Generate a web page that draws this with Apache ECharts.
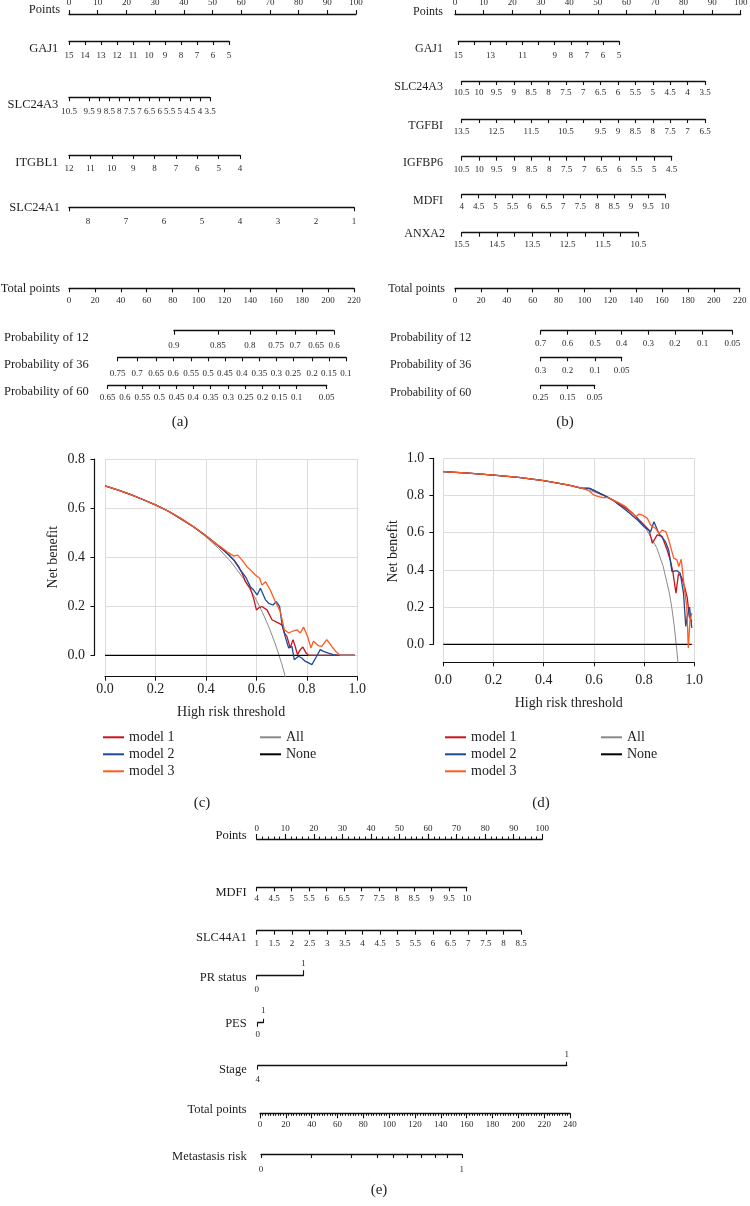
<!DOCTYPE html>
<html><head><meta charset="utf-8">
<script src="https://cdn.jsdelivr.net/npm/echarts@6/dist/echarts.min.js"></script>
<style>html,body{margin:0;padding:0;background:#fff}#chart{width:750px;height:1206px}</style>
</head><body><div id="chart"></div>
<script>
// ================= DATA =================
const pointsTicks = [0,10,20,30,40,50,60,70,80,90,100];
// ---- panel (a) nomogram ----
const aGAJ1 = [15,14,13,12,11,10,9,8,7,6,5];
const aSLC24A3 = [10.5,10,9.5,9,8.5,8,7.5,7,6.5,6,5.5,5,4.5,4,3.5];
const aITGBL1 = [12,11,10,9,8,7,6,5,4];
const aSLC24A1Range = [8.5,1];
const aSLC24A1 = [8,7,6,5,4,3,2,1];
const aTotal = [0,20,40,60,80,100,120,140,160,180,200,220];
const aProb12Labels = ['0.9','0.85','0.8','0.75','0.7','0.65','0.6'];
const aProb12Pos = [81.0,115.0,139.7,159.8,174.5,190.7,204.6];
const aProb36Labels = ['0.75','0.7','0.65','0.6','0.55','0.5','0.45','0.4','0.35','0.3','0.25','0.2','0.15','0.1'];
const aProb36Pos = [37.6,52.5,67.2,80.3,94.2,107.3,120.4,133.5,146.9,160.0,173.1,187.6,200.7,213.8];
const aProb60Labels = ['0.65','0.6','0.55','0.5','0.45','0.4','0.35','0.3','0.25','0.2','0.15','0.1','0.05'];
const aProb60Pos = [29.9,43.2,56.6,69.7,83.1,95.9,109.4,123.0,136.4,149.5,162.3,175.8,198.9];
// ---- panel (b) nomogram ----
const bGAJ1 = [15,14,13,12,11,10,9,8,7,6,5];
const bGAJ1Labels = [15,13,11,9,8,7,6,5];
const bSLC24A3 = [10.5,10,9.5,9,8.5,8,7.5,7,6.5,6,5.5,5,4.5,4,3.5];
const bTGFBI = [13.5,13,12.5,12,11.5,11,10.5,10,9.5,9,8.5,8,7.5,7,6.5];
const bTGFBILabels = [13.5,12.5,11.5,10.5,9.5,9,8.5,8,7.5,7,6.5];
const bIGFBP6 = [10.5,10,9.5,9,8.5,8,7.5,7,6.5,6,5.5,5,4.5];
const bMDFI = [4,4.5,5,5.5,6,6.5,7,7.5,8,8.5,9,9.5,10];
const bANXA2 = [15.5,15,14.5,14,13.5,13,12.5,12,11.5,11,10.5];
const bANXA2Labels = [15.5,14.5,13.5,12.5,11.5,10.5];
const bTotal = [0,20,40,60,80,100,120,140,160,180,200,220];
const bProb12Labels = ['0.7','0.6','0.5','0.4','0.3','0.2','0.1','0.05'];
const bProb12Pos = [66.2,87.1,108.2,128.8,149.4,170.0,191.4,214.3];
const bProb36Labels = ['0.3','0.2','0.1','0.05'];
const bProb36Pos = [66.2,87.1,108.2,128.8];
const bProb60Labels = ['0.25','0.15','0.05'];
const bProb60Pos = [66.2,87.1,107.9];
// ---- panel (e) nomogram ----
const eMDFI = [4,4.5,5,5.5,6,6.5,7,7.5,8,8.5,9,9.5,10];
const eSLC44A1 = [1,1.5,2,2.5,3,3.5,4,4.5,5,5.5,6,6.5,7,7.5,8,8.5];
const ePRStatus = [0,1];
const ePES = [0,1];
const eStage = [4,1];
const eRiskPos = [0.8,40.0,70.4,90.8,103.2,114.0,124.6,135.5,144.8,156.2];
const eRiskLabels = ['0','1'];
// ---- panel (c) decision curves: [threshold, net benefit] ----
const cAll = [[0,0.690],[0.05,0.674],[0.1,0.656],[0.15,0.635],[0.2,0.613],[0.25,0.587],[0.3,0.557],[0.35,0.523],[0.4,0.483],[0.45,0.436],[0.5,0.380],[0.55,0.311],[0.6,0.225],[0.625,0.173],[0.65,0.114],[0.675,0.046],[0.7,-0.033],[0.72,-0.107]];
const cNone = [[0,0],[0.99,0]];
const cModel1 = [[0,0.690],[0.05,0.674],[0.1,0.656],[0.15,0.635],[0.2,0.613],[0.25,0.588],[0.3,0.558],[0.35,0.525],[0.4,0.487],[0.45,0.445],[0.47,0.428],[0.49,0.410],[0.511,0.388],[0.53,0.361],[0.545,0.330],[0.557,0.300],[0.576,0.273],[0.589,0.232],[0.6,0.185],[0.609,0.193],[0.622,0.199],[0.642,0.185],[0.662,0.145],[0.688,0.131],[0.701,0.124],[0.711,0.091],[0.721,0.077],[0.734,0.030],[0.745,0.064],[0.754,0.036],[0.763,0.003],[0.774,0.023],[0.784,0.034],[0.797,0.009],[0.807,0],[0.9,0],[0.99,0]];
const cModel2 = [[0,0.690],[0.05,0.674],[0.1,0.656],[0.15,0.635],[0.2,0.613],[0.25,0.588],[0.3,0.556],[0.35,0.524],[0.4,0.487],[0.45,0.445],[0.47,0.428],[0.49,0.410],[0.511,0.388],[0.537,0.347],[0.557,0.320],[0.576,0.280],[0.589,0.266],[0.603,0.246],[0.616,0.273],[0.636,0.226],[0.649,0.212],[0.666,0.205],[0.679,0.219],[0.692,0.199],[0.701,0.131],[0.714,0.077],[0.728,0.030],[0.741,0.036],[0.750,-0.018],[0.767,-0.004],[0.780,-0.011],[0.793,-0.024],[0.807,-0.031],[0.820,-0.038],[0.839,-0.004],[0.853,0.023],[0.866,0.016],[0.886,0.009],[0.905,0.003],[0.925,0],[0.99,0]];
const cModel3 = [[0,0.690],[0.05,0.674],[0.1,0.656],[0.15,0.635],[0.2,0.613],[0.25,0.588],[0.3,0.558],[0.35,0.525],[0.4,0.487],[0.45,0.447],[0.458,0.442],[0.484,0.422],[0.511,0.404],[0.526,0.408],[0.543,0.388],[0.563,0.361],[0.583,0.341],[0.596,0.327],[0.613,0.314],[0.622,0.286],[0.636,0.300],[0.655,0.266],[0.675,0.219],[0.695,0.178],[0.711,0.104],[0.728,0.091],[0.741,0.097],[0.761,0.104],[0.774,0.091],[0.787,0.115],[0.803,0.077],[0.816,0.030],[0.826,0.057],[0.846,0.039],[0.859,0.036],[0.879,0.064],[0.899,0.036],[0.918,0.012],[0.932,0],[0.99,0]];
// ---- panel (d) decision curves ----
const dAll = [[0,0.928],[0.1,0.920],[0.2,0.910],[0.3,0.897],[0.4,0.880],[0.5,0.856],[0.6,0.820],[0.65,0.794],[0.7,0.760],[0.75,0.712],[0.8,0.640],[0.85,0.520],[0.875,0.424],[0.9,0.280],[0.91,0.200],[0.92,0.100],[0.93,-0.028],[0.935,-0.100]];
const dNone = [[0,0],[0.99,0]];
const dModel1 = [[0,0.928],[0.1,0.920],[0.2,0.910],[0.3,0.897],[0.4,0.880],[0.5,0.856],[0.55,0.840],[0.578,0.840],[0.597,0.829],[0.624,0.811],[0.65,0.795],[0.676,0.775],[0.70,0.755],[0.728,0.730],[0.754,0.704],[0.780,0.668],[0.800,0.641],[0.820,0.614],[0.833,0.543],[0.852,0.588],[0.872,0.580],[0.891,0.510],[0.905,0.450],[0.915,0.385],[0.927,0.275],[0.937,0.380],[0.950,0.360],[0.963,0.300],[0.972,0.250],[0.980,0.150],[0.990,0.120]];
const dModel2 = [[0,0.928],[0.1,0.920],[0.2,0.910],[0.3,0.897],[0.4,0.880],[0.5,0.856],[0.55,0.840],[0.584,0.838],[0.624,0.811],[0.676,0.775],[0.728,0.721],[0.774,0.668],[0.800,0.632],[0.826,0.605],[0.839,0.659],[0.859,0.596],[0.885,0.552],[0.898,0.507],[0.911,0.391],[0.931,0.396],[0.944,0.382],[0.957,0.275],[0.966,0.096],[0.972,0.150],[0.981,0.200],[0.990,0.088]];
const dModel3 = [[0,0.928],[0.1,0.920],[0.2,0.910],[0.3,0.897],[0.4,0.880],[0.5,0.856],[0.55,0.840],[0.578,0.829],[0.597,0.805],[0.615,0.795],[0.637,0.789],[0.655,0.790],[0.676,0.775],[0.70,0.760],[0.728,0.739],[0.748,0.712],[0.767,0.686],[0.780,0.700],[0.793,0.695],[0.813,0.677],[0.826,0.641],[0.846,0.623],[0.859,0.596],[0.872,0.614],[0.887,0.605],[0.898,0.561],[0.918,0.463],[0.931,0.454],[0.938,0.418],[0.948,0.457],[0.961,0.293],[0.970,0.204],[0.976,-0.020],[0.983,0.132],[0.990,0.168]];

// ================= STYLE / LAYOUT =================
const SERIF = 'Liberation Serif';
const AXIS = '#111';
const COLORS = {m1:'#c8141c', m2:'#1b4a9a', m3:'#ff5a1f', all:'#8a8a8a', none:'#000'};

const grids = [], xAxes = [], yAxes = [], series = [], graphics = [];

function addGrid(g) {
  grids.push(Object.assign({show:false, containLabel:false, outerBoundsMode:'none'}, g));
  return grids.length - 1;
}
function lookupFmt(pos, labs) {
  return function (v) {
    let k = 0, best = Infinity;
    pos.forEach(function (p, i) { const d = Math.abs(p - v); if (d < best) { best = d; k = i; } });
    return labs[k];
  };
}
function nameText(txt, x, y, fs, align) {
  graphics.push({type:'text', x:x, y:y, silent:true,
    style:{text:txt, fontSize:fs, fontFamily:SERIF, fill:'#1e1e1e', align:align || 'right', verticalAlign:'middle'}});
}
function buildAxis(gi, a, fs) {
  const lo = Math.min(a.range[0], a.range[1]), hi = Math.max(a.range[0], a.range[1]);
  const ax = {
    gridIndex: gi, type: 'value', position: a.pos || 'bottom', min: lo, max: hi,
    inverse: a.range[0] > a.range[1],
    axisLine: {show: a.line !== false, onZero: false, lineStyle: {color: AXIS, width: 1.3}},
    axisTick: {show: true, inside: false, length: a.tickLen || 4, lineStyle: {color: AXIS, width: 1.1}},
    axisLabel: {show: true, margin: a.ldy - fs / 2, fontSize: fs, fontFamily: SERIF, color: '#2a2a2a',
      hideOverlap: false, showMinLabel: true, showMaxLabel: true},
    splitLine: {show: false}, splitArea: {show: false}
  };
  if (a.interval) {
    ax.interval = a.interval;
  } else {
    ax.axisTick.customValues = a.ticks;
    ax.axisLabel.customValues = a.labels || a.ticks;
  }
  if (a.fmt) ax.axisLabel.formatter = a.fmt;
  if (a.minor) ax.minorTick = {show: true, splitNumber: a.minor, length: a.minorLen, lineStyle: {color: AXIS, width: 1}};
  return ax;
}
function addRow(r, fs, nfs) {
  const gi = addGrid({left: r.x0, width: r.x1 - r.x0, top: r.y, height: 0});
  yAxes.push({gridIndex: gi, type: 'value', show: false, min: 0, max: 1});
  r.axes.forEach(function (a) { xAxes.push(buildAxis(gi, a, fs)); });
  nameText(r.name, r.nx, r.ny, nfs, r.align);
}
function probRow(name, nx, ny, y, pos, labs, tot, ldy) {
  const tpx = function (t) { return tot.x0 + t * (tot.x1 - tot.x0) / tot.max; };
  return {name: name, nx: nx, ny: ny, align: 'left', x0: tpx(pos[0]), x1: tpx(pos[pos.length - 1]), y: y,
    axes: [{range: [pos[0], pos[pos.length - 1]], ticks: pos, labels: pos, fmt: lookupFmt(pos, labs), ldy: ldy}]};
}

// ---------- (a) ----------
const totA = {x0: 69, x1: 354, max: 220};
[
  {name:'Points', nx:60, ny:10, x0:69, x1:356, y:14, axes:[{pos:'top', range:[0,100], ticks:pointsTicks, ldy:11}]},
  {name:'GAJ1', nx:58.3, ny:48.3, x0:69, x1:229, y:41, axes:[{range:[aGAJ1[0], aGAJ1[aGAJ1.length-1]], ticks:aGAJ1, ldy:15}]},
  {name:'SLC24A3', nx:58.3, ny:105, x0:69, x1:210, y:97.3, axes:[{range:[aSLC24A3[0], aSLC24A3[aSLC24A3.length-1]], ticks:aSLC24A3, ldy:14.3}]},
  {name:'ITGBL1', nx:58.3, ny:162.7, x0:69, x1:240, y:155, axes:[{range:[aITGBL1[0], aITGBL1[aITGBL1.length-1]], ticks:aITGBL1, ldy:13.3}]},
  {name:'SLC24A1', nx:60, ny:207.3, x0:69, x1:354, y:207.3, axes:[{range:aSLC24A1Range, ticks:aSLC24A1Range, labels:aSLC24A1, ldy:14.3}]},
  {name:'Total points', nx:60, ny:288.3, x0:totA.x0, x1:totA.x1, y:288.3, axes:[{range:[0,220], ticks:aTotal, ldy:12.4}]},
  probRow('Probability of 12', 4, 338, 330.7, aProb12Pos, aProb12Labels, totA, 15),
  probRow('Probability of 36', 4, 365, 357.3, aProb36Pos, aProb36Labels, totA, 16),
  probRow('Probability of 60', 4, 391.7, 385, aProb60Pos, aProb60Labels, totA, 12.3)
].forEach(function (r) { addRow(r, 9, 12.5); });

// ---------- (b) ----------
const totB = {x0: 455, x1: 739.7, max: 220};
[
  {name:'Points', nx:443, ny:11.7, x0:455, x1:740.7, y:14, axes:[{pos:'top', range:[0,100], ticks:pointsTicks, ldy:11}]},
  {name:'GAJ1', nx:443, ny:49, x0:458.3, x1:619, y:41, axes:[{range:[15,5], ticks:bGAJ1, labels:bGAJ1Labels, ldy:15}]},
  {name:'SLC24A3', nx:443, ny:87.3, x0:461.7, x1:705, y:81, axes:[{range:[10.5,3.5], ticks:bSLC24A3, ldy:11.7}]},
  {name:'TGFBI', nx:443, ny:126, x0:461.7, x1:705, y:119, axes:[{range:[13.5,6.5], ticks:bTGFBI, labels:bTGFBILabels, ldy:12.7}]},
  {name:'IGFBP6', nx:443, ny:163, x0:461.7, x1:671.7, y:156.7, axes:[{range:[10.5,4.5], ticks:bIGFBP6, ldy:12.7}]},
  {name:'MDFI', nx:443, ny:201, x0:461.7, x1:665, y:194.3, axes:[{range:[4,10], ticks:bMDFI, ldy:12.5}]},
  {name:'ANXA2', nx:445, ny:233.7, x0:461.7, x1:638.3, y:232.7, axes:[{range:[15.5,10.5], ticks:bANXA2, labels:bANXA2Labels, ldy:12.3}]},
  {name:'Total points', nx:445, ny:289.3, x0:totB.x0, x1:totB.x1, y:288.3, axes:[{range:[0,220], ticks:bTotal, ldy:12.4}]},
  probRow('Probability of 12', 390, 338.3, 330.7, bProb12Pos, bProb12Labels, totB, 13.3),
  probRow('Probability of 36', 390, 365, 357.3, bProb36Pos, bProb36Labels, totB, 13.4),
  probRow('Probability of 60', 390, 392.7, 385, bProb60Pos, bProb60Labels, totB, 12.3)
].forEach(function (r) { addRow(r, 9, 12); });

// ---------- (e) ----------
const totE = {x0: 260, x1: 570, max: 240};
[
  {name:'Points', nx:246.7, ny:836, x0:256.7, x1:542.3, y:839, axes:[{pos:'top', range:[0,100], interval:10, minor:5, tickLen:5, minorLen:2.5, ldy:10.7}]},
  {name:'MDFI', nx:246.7, ny:892.7, x0:256.7, x1:466.7, y:887.3, axes:[{range:[4,10], ticks:eMDFI, ldy:11.7}]},
  {name:'SLC44A1', nx:246.7, ny:937.3, x0:256.7, x1:521, y:930.7, axes:[{range:[1,8.5], ticks:eSLC44A1, ldy:13.3}]},
  {name:'PR status', nx:246.7, ny:977.3, x0:256.7, x1:303.3, y:975.7, axes:[
    {range:ePRStatus, ticks:[ePRStatus[0]], ldy:14.3},
    {pos:'top', line:false, range:ePRStatus, ticks:[ePRStatus[1]], tickLen:5.5, ldy:11.7}]},
  {name:'PES', nx:246.7, ny:1024, x0:257.7, x1:263.3, y:1022.7, axes:[
    {range:ePES, ticks:[ePES[0]], ldy:12.3},
    {pos:'top', line:false, range:ePES, ticks:[ePES[1]], ldy:11.7}]},
  {name:'Stage', nx:246.7, ny:1069.3, x0:257.7, x1:566.7, y:1065.7, axes:[
    {range:eStage, ticks:[eStage[0]], ldy:14.3},
    {pos:'top', line:false, range:eStage, ticks:[eStage[1]], ldy:11.4}]},
  {name:'Total points', nx:246.7, ny:1110, x0:totE.x0, x1:totE.x1, y:1113.3, axes:[{range:[0,240], interval:20, minor:10, tickLen:5, minorLen:2.5, ldy:11.7}]},
  {name:'Metastasis risk', nx:246.7, ny:1156.7, x0:totE.x0 + eRiskPos[0]*(totE.x1-totE.x0)/totE.max,
    x1:totE.x0 + eRiskPos[eRiskPos.length-1]*(totE.x1-totE.x0)/totE.max, y:1154,
    axes:[{range:[eRiskPos[0], eRiskPos[eRiskPos.length-1]], ticks:eRiskPos,
      labels:[eRiskPos[0], eRiskPos[eRiskPos.length-1]],
      fmt:lookupFmt([eRiskPos[0], eRiskPos[eRiskPos.length-1]], eRiskLabels), ldy:15.3}]}
].forEach(function (r) { addRow(r, 9, 12.5); });

// ---------- DCA panels ----------
function addDCA(L, d) {
  const txt = {fontFamily: SERIF, fontSize: 14, color: '#1e1e1e'};
  const g1 = addGrid({left: L.xl, width: L.xr - L.xl, top: L.yTop, height: L.xAxisY - L.yTop});
  const xi = xAxes.length;
  xAxes.push({gridIndex: g1, type: 'value', min: 0, max: 1, interval: 0.2,
    axisLine: {show: true, onZero: false, lineStyle: {color: AXIS, width: 1.2}},
    axisTick: {show: true, inside: false, length: 4, lineStyle: {color: AXIS, width: 1}},
    axisLabel: Object.assign({margin: L.xLabelMargin, formatter: function (v) { return v.toFixed(1); }, showMinLabel: true, showMaxLabel: true}, txt),
    splitLine: {show: true, lineStyle: {color: '#dcdcdc', width: 1}},
    name: 'High risk threshold', nameLocation: 'middle', nameGap: L.xNameGap, nameTextStyle: txt, nameMoveOverlap: false});
  const yi = yAxes.length;
  yAxes.push({gridIndex: g1, type: 'value', min: L.yMin, max: L.yMax, show: false});
  const g2 = addGrid({left: L.xl, width: L.xr - L.xl, top: L.yTop, height: L.yZeroY - L.yTop});
  xAxes.push({gridIndex: g2, type: 'value', min: 0, max: 1, show: false});
  yAxes.push({gridIndex: g2, type: 'value', min: 0, max: L.yMax, interval: 0.2, offset: L.offset,
    axisLine: {show: true, onZero: false, lineStyle: {color: AXIS, width: 1.2}},
    axisTick: {show: true, inside: false, length: 4, lineStyle: {color: AXIS, width: 1}},
    axisLabel: Object.assign({margin: L.yLabelMargin, formatter: function (v) { return v.toFixed(1); }, showMinLabel: true, showMaxLabel: true}, txt),
    splitLine: {show: true, lineStyle: {color: '#dcdcdc', width: 1}},
    name: 'Net benefit', nameLocation: 'middle', nameRotate: 90, nameGap: L.yNameGap, nameTextStyle: txt, nameMoveOverlap: false});
  const mk = function (name, data, color, w) {
    series.push({type: 'line', name: name, data: data, xAxisIndex: xi, yAxisIndex: yi, symbol: 'none', showSymbol: false,
      clip: true, smooth: false, lineStyle: {color: color, width: w}, itemStyle: {color: color}, z: 2, emphasis: {disabled: true}});
  };
  mk('All', d.all, COLORS.all, 1);
  mk('None', d.none, COLORS.none, 1.2);
  mk('model 1', d.m1, COLORS.m1, 1.3);
  mk('model 2', d.m2, COLORS.m2, 1.3);
  mk('model 3', d.m3, COLORS.m3, 1.3);
}
addDCA({xl:105, xr:357.3, yTop:459, xAxisY:676.7, yZeroY:655.3, yMax:0.8, yMin:-0.0872, offset:10.5,
  xLabelMargin:5.6, xNameGap:28.6, yLabelMargin:9.5, yNameGap:34.5},
  {all:cAll, none:cNone, m1:cModel1, m2:cModel2, m3:cModel3});
addDCA({xl:443.3, xr:694.3, yTop:458.3, xAxisY:662.3, yZeroY:644.3, yMax:1.0, yMin:-0.0968, offset:10,
  xLabelMargin:10.7, xNameGap:34, yLabelMargin:9, yNameGap:33},
  {all:dAll, none:dNone, m1:dModel1, m2:dModel2, m3:dModel3});

function legendAt(left, top, names) {
  return {show: true, orient: 'vertical', left: left, top: top, icon: 'rect', itemWidth: 21, itemHeight: 2, itemGap: 3,
    padding: 0, selectedMode: false, data: names,
    textStyle: {fontFamily: SERIF, fontSize: 14, color: '#1e1e1e', lineHeight: 14}};
}
const legends = [
  legendAt(103, 730.3, ['model 1','model 2','model 3']),
  legendAt(260, 730.3, ['All','None']),
  legendAt(445, 730.3, ['model 1','model 2','model 3']),
  legendAt(601, 730.3, ['All','None'])
];

// captions
[['(a)', 180, 422], ['(b)', 565, 422], ['(c)', 202, 803], ['(d)', 541, 803], ['(e)', 379, 1190]].forEach(function (c) {
  graphics.push({type:'text', x:c[1], y:c[2], silent:true,
    style:{text:c[0], fontSize:15, fontFamily:SERIF, fill:'#1e1e1e', align:'center', verticalAlign:'middle'}});
});

const chart = echarts.init(document.getElementById('chart'), null, {renderer: 'canvas', width: 750, height: 1206});
chart.setOption({
  animation: false,
  backgroundColor: '#fff',
  textStyle: {fontFamily: SERIF},
  grid: grids, xAxis: xAxes, yAxis: yAxes, series: series,
  legend: legends,
  graphic: {elements: graphics}
});
</script></body></html>
